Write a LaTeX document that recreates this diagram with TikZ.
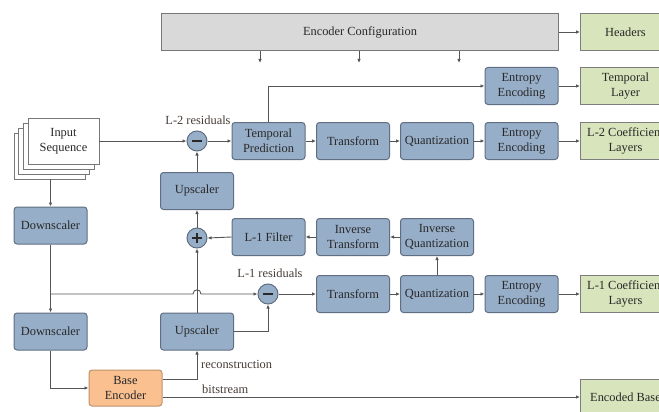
\documentclass[tikz,border=0pt]{standalone}
\usepackage{fontspec}
\setmainfont{Liberation Serif}
\usetikzlibrary{arrows.meta}
\definecolor{bluefill}{RGB}{151,174,201}
\definecolor{blueline}{RGB}{95,110,130}
\definecolor{greenfill}{RGB}{216,228,188}
\definecolor{greenline}{RGB}{125,125,125}
\definecolor{orangefill}{RGB}{250,192,144}
\definecolor{orangeline}{RGB}{190,145,105}
\definecolor{grayfill}{RGB}{217,217,217}
\definecolor{grayline}{RGB}{120,120,120}
\definecolor{txt}{RGB}{40,40,40}
\definecolor{lbl}{RGB}{70,60,55}
\definecolor{wire}{RGB}{85,85,85}
\begin{document}
\begin{tikzpicture}[x=1pt,y=-1pt,
  font=\fontsize{12.4}{14.8}\selectfont,
  box/.style={draw=blueline,fill=bluefill,rounded corners=3pt,line width=1pt,
    minimum width=73pt,minimum height=37pt,align=center,text=txt,inner sep=1pt},
  outbox/.style={draw=greenline,fill=greenfill,line width=1pt,
    minimum width=90pt,minimum height=37pt,align=center,text=txt,inner sep=1pt,anchor=west},
  basebox/.style={box,draw=orangeline,fill=orangefill},
  cfgbox/.style={draw=grayline,fill=grayfill,line width=1pt,minimum width=397pt,
    minimum height=37pt,text=txt},
  inbox/.style={draw=grayline,fill=white,line width=0.8pt,minimum width=71pt,
    minimum height=46pt,align=center,text=txt,inner sep=1pt},
  opcirc/.style={circle,draw=blueline,fill=bluefill,line width=1pt,minimum size=20pt,inner sep=0pt},
  sign/.style={line width=1.7pt,draw=txt},
  arr/.style={draw=wire,line width=0.9pt,-{Latex[length=4pt,width=3.5pt]}},
  lab/.style={text=lbl,inner sep=0pt}
]
\useasboundingbox (0,0) rectangle (659,412);

% top row
\node[cfgbox] (config) at (360,32) {Encoder Configuration};
\node[outbox] (headers) at (580,32) {Headers};
\coordinate (c1) at (260,63);
\coordinate (c2) at (359,63);
\coordinate (c3) at (459,63);

% temporal row
\node[box] (tee) at (521.5,86) {Entropy\\Encoding};
\node[outbox] (tlayer) at (580,86) {Temporal\\Layer};

% input stack
\foreach \k in {3,2,1} {
  \node[inbox] at ({63.5-4.7*\k},{141+5*\k}) {};
}
\node[inbox] (input) at (63.5,141) {Input\\Sequence};
\coordinate (sb) at (50.5,179);

% L-2 row
\node[opcirc] (minus2) at (197,141) {};
\node[box] (tp) at (268.5,141) {Temporal\\Prediction};
\node[box] (tr2) at (353,141) {Transform};
\node[box] (q2) at (437,141) {Quantization};
\node[box] (ee2) at (521.5,141) {Entropy\\Encoding};
\node[outbox] (l2) at (580,141) {L-2 Coefficient\\Layers};
\node[lab] (l2lab) at (198,120) {L-2 residuals};

\node[box] (up1) at (197,191) {Upscaler};
\node[box] (ds1) at (50.5,225.5) {Downscaler};

% inverse row
\node[opcirc] (plus) at (197,238) {};
\node[box] (filt) at (268.5,237) {L-1 Filter};
\node[box] (itr) at (353,237) {Inverse\\Transform};
\node[box] (iq) at (437,237) {Inverse\\Quantization};

% L-1 row
\node[opcirc] (minus1) at (268,294) {};
\node[box] (tr1) at (353,294) {Transform};
\node[box] (q1) at (437,294) {Quantization};
\node[box] (ee1) at (521.5,294) {Entropy\\Encoding};
\node[outbox] (l1) at (580,294) {L-1 Coefficient\\Layers};
\node[lab] (l1lab) at (270,273) {L-1 residuals};

% bottom
\node[box] (ds2) at (50.5,331.5) {Downscaler};
\node[box] (up2) at (197,331.5) {Upscaler};
\node[basebox,minimum height=36pt] (base) at (125.5,388) {Base\\Encoder};
\node[outbox,minimum height=36pt] (encbase) at (580,397) {Encoded Base};
\node[lab,anchor=west] (reclab) at (201,364) {reconstruction};
\node[lab,anchor=west] (bslab) at (202,389) {bitstream};

% signs
\draw[sign] ([xshift=-5pt]minus2.center) -- ([xshift=5pt]minus2.center);
\draw[sign] ([xshift=-5pt]minus1.center) -- ([xshift=5pt]minus1.center);
\draw[sign] ([xshift=-5pt]plus.center) -- ([xshift=5pt]plus.center);
\draw[sign] ([yshift=-5pt]plus.center) -- ([yshift=5pt]plus.center);

% connectors
\draw[arr] (config.east) -- (headers.west);
\draw[arr] (config.south -| c1) -- (c1);
\draw[arr] (config.south -| c2) -- (c2);
\draw[arr] (config.south -| c3) -- (c3);
\draw[arr] (tee.east) -- (tlayer.west);
\draw[arr] (input.east) -- (minus2.west);
\draw[arr] (up1.north) -- (minus2.south);
\draw[arr] (minus2.east) -- (tp.west);
\draw[arr] (tp.north) |- (tee.west);
\draw[arr] (tp.east) -- (tr2.west);
\draw[arr] (tr2.east) -- (q2.west);
\draw[arr] (q2.east) -- (ee2.west);
\draw[arr] (ee2.east) -- (l2.west);
\draw[arr] (sb) -- (ds1.north);
\draw[arr] (plus.north) -- (up1.south);
\draw[arr] (iq.west) -- (itr.east);
\draw[arr] (itr.west) -- (filt.east);
\draw[arr] (filt.west) -- (plus.east);
\draw[arr] (q1.north) -- (iq.south);
\draw[arr] (minus1.east) -- (tr1.west);
\draw[arr] (tr1.east) -- (q1.west);
\draw[arr] (q1.east) -- (ee1.west);
\draw[arr] (ee1.east) -- (l1.west);
\draw[arr] (ds1.south) -- (ds2.north);
\draw[arr] (ds1.south |- minus1.west) -- (193,294) .. controls (193,288.5) and (201,288.5) .. (201,294) -- (minus1.west);
\draw[arr] (up2.north) -- (plus.south);
\draw[arr] (up2.east) -| (minus1.south);
\draw[arr] (ds2.south) |- (base.west);
\draw[arr] ([yshift=9pt]base.east) -| (up2.south);
\draw[arr] (base.east |- encbase.west) -- (encbase.west);
\end{tikzpicture}
\end{document}
